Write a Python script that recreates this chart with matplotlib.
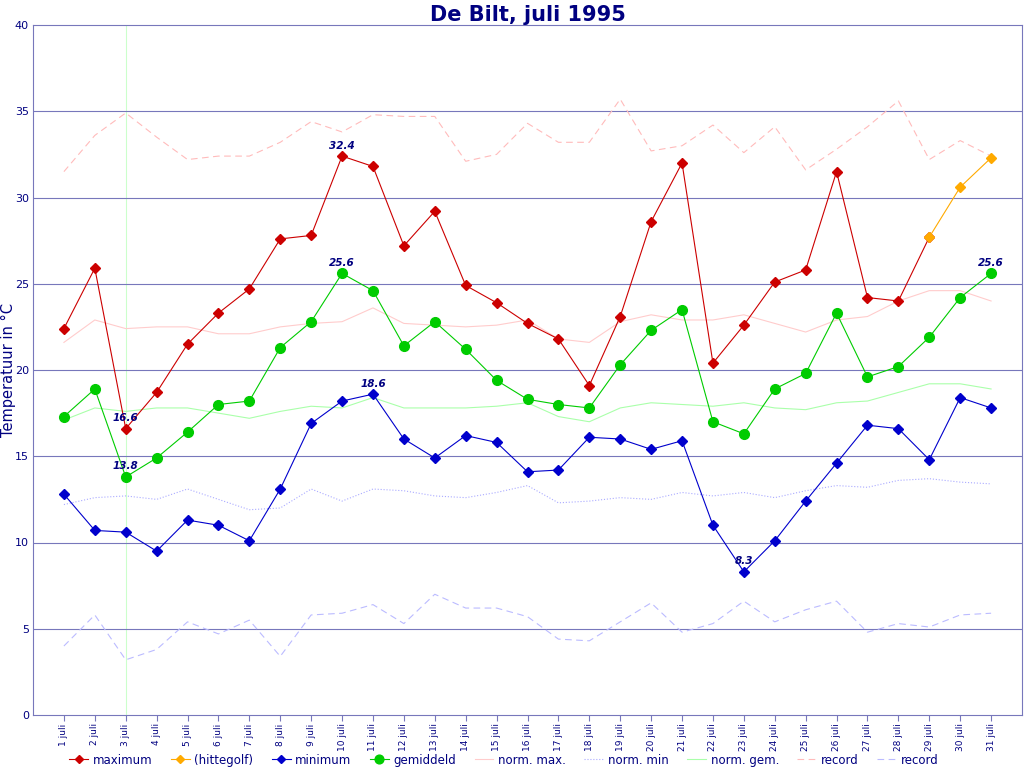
import matplotlib
matplotlib.use("Agg")
import matplotlib.pyplot as plt

# temperatures De Bilt, July 1995
days = list(range(1, 32))
day_labels = [f"{d} juli" for d in days]

maximum = [22.4, 25.9, 16.6, 18.7, 21.5, 23.3, 24.7, 27.6, 27.8, 32.4,
           31.8, 27.2, 29.2, 24.9, 23.9, 22.7, 21.8, 19.1, 23.1, 28.6,
           32.0, 20.4, 22.6, 25.1, 25.8, 31.5, 24.2, 24.0, 27.7]
hitte_days = [29, 30, 31]
hittegolf = [27.7, 30.6, 32.3]
minimum = [12.8, 10.7, 10.6, 9.5, 11.3, 11.0, 10.1, 13.1, 16.9, 18.2,
           18.6, 16.0, 14.9, 16.2, 15.8, 14.1, 14.2, 16.1, 16.0, 15.4,
           15.9, 11.0, 8.3, 10.1, 12.4, 14.6, 16.8, 16.6, 14.8, 18.4, 17.8]
gemiddeld = [17.3, 18.9, 13.8, 14.9, 16.4, 18.0, 18.2, 21.3, 22.8, 25.6,
             24.6, 21.4, 22.8, 21.2, 19.4, 18.3, 18.0, 17.8, 20.3, 22.3,
             23.5, 17.0, 16.3, 18.9, 19.8, 23.3, 19.6, 20.2, 21.9, 24.2, 25.6]
norm_max = [21.6, 22.9, 22.4, 22.5, 22.5, 22.1, 22.1, 22.5, 22.7, 22.8,
            23.6, 22.7, 22.6, 22.5, 22.6, 22.9, 21.8, 21.6, 22.8, 23.2,
            22.9, 22.9, 23.2, 22.7, 22.2, 22.9, 23.1, 24.0, 24.6, 24.6, 24.0]
norm_min = [12.2, 12.6, 12.7, 12.5, 13.1, 12.5, 11.9, 12.0, 13.1, 12.4,
            13.1, 13.0, 12.7, 12.6, 12.9, 13.3, 12.3, 12.4, 12.6, 12.5,
            12.9, 12.7, 12.9, 12.6, 13.0, 13.3, 13.2, 13.6, 13.7, 13.5, 13.4]
norm_gem = [17.1, 17.8, 17.6, 17.8, 17.8, 17.5, 17.2, 17.6, 17.9, 17.8,
            18.4, 17.8, 17.8, 17.8, 17.9, 18.1, 17.3, 17.0, 17.8, 18.1,
            18.0, 17.9, 18.1, 17.8, 17.7, 18.1, 18.2, 18.7, 19.2, 19.2, 18.9]
record_max = [31.5, 33.6, 34.9, 33.5, 32.2, 32.4, 32.4, 33.2, 34.4, 33.8,
              34.8, 34.7, 34.7, 32.1, 32.5, 34.3, 33.2, 33.2, 35.7, 32.7,
              33.0, 34.2, 32.6, 34.1, 31.6, 32.8, 34.1, 35.6, 32.2, 33.3, 32.4]
record_min = [4.0, 5.8, 3.2, 3.8, 5.4, 4.7, 5.5, 3.4, 5.8, 5.9,
              6.4, 5.3, 7.0, 6.2, 6.2, 5.7, 4.4, 4.3, 5.4, 6.5,
              4.8, 5.3, 6.6, 5.4, 6.1, 6.6, 4.8, 5.3, 5.1, 5.8, 5.9]

# (day, value) pairs that get a number above the point
labelled = [(10, 32.4), (10, 25.6), (11, 18.6), (3, 16.6), (3, 13.8), (23, 8.3), (31, 25.6)]

navy = "#000080"
frame = "#7777bb"

fig = plt.figure(figsize=(10.24, 7.68), dpi=100)
ax = fig.add_axes([33 / 1024, 1 - 715 / 768, 989 / 1024, 690 / 768])

ax.axvline(3, color="#ccffcc", lw=0.8, zorder=0)
for y in range(5, 40, 5):
    ax.axhline(y, color=frame, lw=0.8, zorder=0)

ax.plot(days, norm_max, color="#ffcccc", lw=0.8, label="norm. max.")
ax.plot(days, norm_min, color="#aaaaff", lw=0.8, ls=":", label="norm. min")
ax.plot(days, norm_gem, color="#aaffaa", lw=0.8, label="norm. gem.")
ax.plot(days, record_max, color="#ffbbbb", lw=0.8, ls=(0, (6, 4)), label="record")
ax.plot(days, record_min, color="#bbbbff", lw=0.8, ls=(0, (6, 4)), label="record")

ax.plot(days[:len(maximum)], maximum, color="#cc0000", lw=0.8, marker="D", ms=5, label="maximum")
ax.plot(hitte_days, hittegolf, color="#ffaa00", lw=0.8, marker="D", ms=5, label="(hittegolf)")
ax.plot(days, minimum, color="#0000cc", lw=0.8, marker="D", ms=5, label="minimum")
ax.plot(days, gemiddeld, color="#00cc00", lw=0.8, marker="o", ms=7, label="gemiddeld")

for d, v in labelled:
    ax.annotate(f"{v}", (d, v), xytext=(0, 4), textcoords="offset points",
                ha="center", va="bottom", fontsize=7.5, fontweight="bold",
                style="italic", color=navy)

ax.set_xlim(0, 32)
ax.set_ylim(0, 40)
ax.set_xticks(days)
ax.set_xticklabels(day_labels, rotation=90)
ax.set_yticks(range(0, 45, 5))
ax.tick_params(axis="x", colors=navy, labelsize=6.5, length=4, width=0.8, color=frame, pad=2)
ax.tick_params(axis="y", colors=navy, labelsize=8, length=0, pad=3)
for s in ax.spines.values():
    s.set_color(frame)
    s.set_linewidth(0.8)

ax.set_ylabel("Temperatuur in °C", color=navy, fontsize=10.5)
ax.yaxis.set_label_coords(-0.017, 0.5)
ax.set_title("De Bilt, juli 1995", color=navy, fontsize=15, fontweight="bold", pad=1)

handles, labels = ax.get_legend_handles_labels()
order = [5, 6, 7, 8, 0, 1, 2, 3, 4]
fig.legend([handles[i] for i in order], [labels[i] for i in order],
           loc="lower center", bbox_to_anchor=(0.492, -0.012), ncol=9,
           frameon=False, fontsize=8.5, handlelength=1.6, columnspacing=1.55,
           handletextpad=0.4, labelcolor=navy, markerscale=0.9)

fig.savefig("out.png", dpi=100)
